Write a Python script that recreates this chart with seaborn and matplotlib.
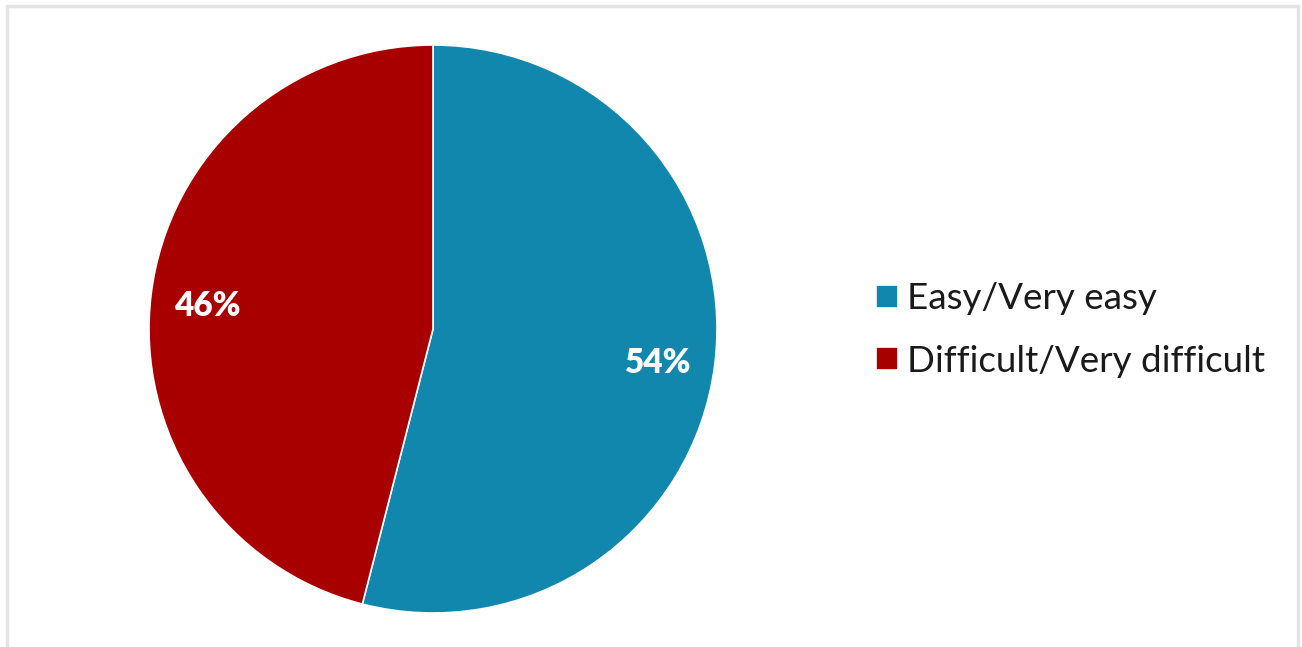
import matplotlib
matplotlib.use("Agg")
import matplotlib.pyplot as plt
import seaborn as sns
from matplotlib.patches import Rectangle

sns.set_theme(style="white")
plt.rcParams['font.family'] = ['Lato', 'DejaVu Sans']

categories = ["Easy/Very easy", "Difficult/Very difficult"]
values = [54, 46]
colors = sns.color_palette(["#1287AD", "#A80000"])

W, H = 1302, 647
fig = plt.figure(figsize=(W / 100, H / 100), dpi=100)
fig.patch.set_facecolor("white")

# outer frame (bottom edge falls off the picture)
fig.patches.append(Rectangle((7 / W, -0.05), (1298 - 7) / W, (H - 6) / H + 0.05,
                             transform=fig.transFigure, fill=False,
                             edgecolor="#E3E3E3", linewidth=2.5))

cx, cy, r = 433, 329, 284
ax = fig.add_axes([(cx - r) / W, (H - cy - r) / H, 2 * r / W, 2 * r / H])
wedges, texts, autotexts = ax.pie(
    values, colors=colors, startangle=90, counterclock=False,
    autopct=lambda p: f"{p:.0f}%", pctdistance=0.8,
    wedgeprops=dict(edgecolor="white", linewidth=1.2),
    textprops=dict(color="white", fontsize=24, fontweight="heavy"))
for t in autotexts:
    x, y = t.get_position()
    t.set_position((x, y - 0.018))
ax.set_xlim(-1, 1)
ax.set_ylim(-1, 1)
ax.set_aspect("equal")

leg = fig.legend(wedges, categories, loc="center left",
                 bbox_to_anchor=(843 / W, 1 - 330 / H), frameon=False,
                 fontsize=26.5, handlelength=0.6, handleheight=0.6,
                 handletextpad=0.25, labelspacing=0.8)
for t in leg.get_texts():
    t.set_color("#1A1A1A")

fig.savefig("out.png", dpi=100)
